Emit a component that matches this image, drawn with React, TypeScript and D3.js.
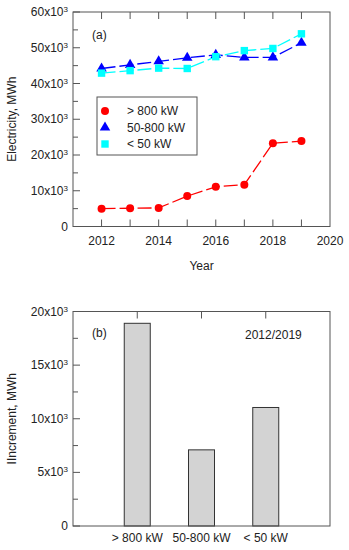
import React from "react";
import * as d3 from "d3";

const years = [2012, 2013, 2014, 2015, 2016, 2017, 2018, 2019];
const big = [5.0, 5.1, 5.2, 8.5, 11.1, 11.7, 23.3, 23.9]; // >800 kW, x10^3 MWh
const mid = [44.2, 45.2, 46.2, 47.2, 48.0, 47.3, 47.3, 51.4]; // 50-800 kW
const small = [42.9, 43.6, 44.3, 44.2, 47.5, 49.2, 49.8, 53.9]; // <50 kW
const seriesNames = ["> 800 kW", "50-800 kW", "< 50 kW"];
const seriesColors = ["#ff0000", "#0000ff", "#00ffff"];
const yearTicks = [2012, 2014, 2016, 2018, 2020];
const topYTicks = [0, 10, 20, 30, 40, 50, 60];
const barCategories = ["> 800 kW", "50-800 kW", "< 50 kW"];
const barValues = [18.9, 7.1, 11.05];
const bottomYTicks = [0, 5, 10, 15, 20];

const FONT = "Liberation Sans, Arial, sans-serif";
const AX = "#555";
const FS = 12;

function Sup({ v }: { v: number }) {
  if (v === 0) return <>0</>;
  return (
    <>
      {v}x10<tspan dy={-4} fontSize={8}>3</tspan>
    </>
  );
}

export default function App() {
  const W = 349, H = 550;
  const L = 73, R = 330;
  const t1 = 12, b1 = 226.5;
  const t2 = 311.5, b2 = 526;

  const x = d3.scaleLinear().domain([2011, 2020]).range([L, R]);
  const y = d3.scaleLinear().domain([0, 60]).range([b1, t1]);
  const xb = d3.scaleLinear().domain([0, 4]).range([L, R]);
  const yb = d3.scaleLinear().domain([0, 20]).range([b2, t2]);

  const line = d3
    .line<number>()
    .x((_, i) => x(years[i]))
    .y((d) => y(d));

  const data = [big, mid, small];
  const tl = 7;

  const marker = (k: number, cx: number, cy: number, key: string) => {
    if (k === 0) return <circle key={key} cx={cx} cy={cy} r={4} fill={seriesColors[0]} />;
    if (k === 1)
      return (
        <path
          key={key}
          d={d3.symbol(d3.symbolTriangle, 48)()!}
          transform={`translate(${cx},${cy})`}
          fill={seriesColors[1]}
        />
      );
    return <rect key={key} x={cx - 3.7} y={cy - 3.7} width={7.4} height={7.4} fill={seriesColors[2]} />;
  };

  const yMinor1 = d3.range(5, 60, 10);
  const yMinor2 = d3.range(2.5, 20, 5);

  return (
    <svg width={W} height={H} style={{ position: "absolute", left: 0, top: 0 }} fontFamily={FONT}>
      <rect width={W} height={H} fill="white" />
      {/* Top chart */}
      <g>
        {data.map((s, k) => (
          <path
            key={k}
            d={line(s)!}
            fill="none"
            stroke={seriesColors[k]}
            strokeWidth={1.3}
            strokeDasharray="14,4"
          />
        ))}
        {data.map((s, k) => s.map((v, i) => marker(k, x(years[i]), y(v), `m${k}-${i}`)))}
        <rect x={L} y={t1} width={R - L} height={b1 - t1} fill="none" stroke={AX} strokeWidth={1} />
        {d3.range(2012, 2020).map((yr) => (
          <g key={yr}>
            <line x1={x(yr)} x2={x(yr)} y1={b1} y2={b1 - tl} stroke={AX} />
            <line x1={x(yr)} x2={x(yr)} y1={t1} y2={t1 + tl} stroke={AX} />
          </g>
        ))}
        {yearTicks.map((yr) => (
          <text key={yr} x={x(yr)} y={b1 + 18} textAnchor="middle" fontSize={FS} fill="#222">
            {yr}
          </text>
        ))}
        {topYTicks.map((v) => (
          <g key={v}>
            <line x1={L} x2={L + tl} y1={y(v)} y2={y(v)} stroke={AX} />
            <text x={L - 5} y={y(v) + 4} textAnchor="end" fontSize={FS} fill="#222">
              <Sup v={v} />
            </text>
          </g>
        ))}
        {yMinor1.map((v) => (
          <line key={v} x1={L} x2={L + 5} y1={y(v)} y2={y(v)} stroke={AX} />
        ))}
        <text x={(L + R) / 2} y={270} textAnchor="middle" fontSize={FS} fill="#222">
          Year
        </text>
        <text
          transform={`translate(16,${(t1 + b1) / 2}) rotate(-90)`}
          textAnchor="middle"
          fontSize={FS}
          fill="#222"
        >
          Electricity, MWh
        </text>
        <text x={92} y={39} fontSize={FS} fill="#222">
          (a)
        </text>
        {/* legend */}
        <rect x={97} y={97} width={100} height={58} fill="white" stroke={AX} />
        {seriesNames.map((n, k) => {
          const ly = 111 + k * 16.5;
          return (
            <g key={n}>
              {marker(k, 105, ly, `lg${k}`)}
              <text x={127} y={ly + 4} fontSize={FS} fill="#222">
                {n}
              </text>
            </g>
          );
        })}
      </g>

      {/* Bottom chart */}
      <g>
        {barValues.map((v, i) => (
          <rect
            key={i}
            x={xb(i + 1) - 13}
            y={yb(v)}
            width={26}
            height={b2 - yb(v)}
            fill="#d3d3d3"
            stroke="#333"
            strokeWidth={1}
          />
        ))}
        <rect x={L} y={t2} width={R - L} height={b2 - t2} fill="none" stroke={AX} strokeWidth={1} />
        {barCategories.map((c, i) => (
          <g key={c}>
            <line x1={xb(i + 1)} x2={xb(i + 1)} y1={t2} y2={t2 + tl} stroke={AX} />
            <text x={xb(i + 1)} y={542} textAnchor="middle" fontSize={FS} fill="#222">
              {c}
            </text>
          </g>
        ))}
        {bottomYTicks.map((v) => (
          <g key={v}>
            <line x1={L} x2={L + tl} y1={yb(v)} y2={yb(v)} stroke={AX} />
            <text x={L - 5} y={yb(v) + 4} textAnchor="end" fontSize={FS} fill="#222">
              <Sup v={v} />
            </text>
          </g>
        ))}
        {yMinor2.map((v) => (
          <line key={v} x1={L} x2={L + 5} y1={yb(v)} y2={yb(v)} stroke={AX} />
        ))}
        <text
          transform={`translate(16,${(t2 + b2) / 2}) rotate(-90)`}
          textAnchor="middle"
          fontSize={FS}
          fill="#222"
        >
          IIncrement, MWh
        </text>
        <text x={92} y={337} fontSize={FS} fill="#222">
          (b)
        </text>
        <text x={245} y={339} fontSize={FS} fill="#222">
          2012/2019
        </text>
      </g>
    </svg>
  );
}
